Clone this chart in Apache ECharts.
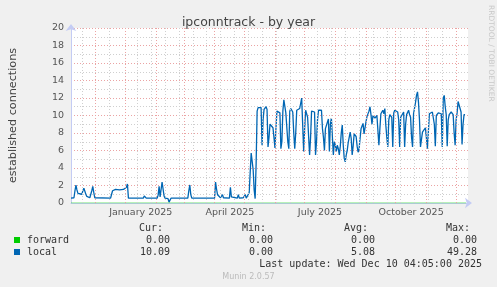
<!DOCTYPE html>
<html><head><meta charset="utf-8">
<script src="https://cdn.jsdelivr.net/npm/echarts@6/dist/echarts.min.js"></script>
<style>html,body{margin:0;padding:0;background:#f0f0f0}#c{width:497px;height:287px}</style>
</head><body><div id="c"></div>
<script>
// x values are days since 2024-09-01
const sparseDays = [67,70,71,72,73,74,76,78,79,80,81,82,83,84,86,88,89,90,91,92,107,108,109,110,112,114,116,118,120,122,123,124,125,140,141,142,143,154,155,156,157,158,159,160,161,162,165,166,167,168,185,186,187,188,189,212,213,214,215,216,217,218,219,220,221,222,227,228,229,230,235,236,237,241,242,243,244,246,247,248,249,250,251,252,253,254];
const sparseValues = [0.55,0.6,1.4,2.05,1.5,1.1,0.95,1.0,1.4,1.7,1.6,1.0,0.75,0.55,0.6,1.4,1.9,1.2,0.6,0.55,0.55,1.0,1.4,1.5,1.55,1.55,1.5,1.6,1.55,1.6,1.8,2.17,0.55,0.55,0.8,0.93,0.55,0.55,0.9,1.9,0.7,0.6,2.4,1.6,0.8,0.55,0.5,0.1,0.03,0.55,0.55,1.4,2.06,0.95,0.55,0.55,2.4,1.6,0.95,1.1,0.75,0.6,0.8,0.95,0.6,0.55,0.55,1.8,0.7,0.55,0.55,0.95,0.55,0.6,0.7,0.95,0.55,0.6,1.2,3.5,5.7,5.5,3.8,1.5,0.5,4.5];
const dailyStart = 255;
const dailyValues = [
10.5,10.9,10.8,11.0,10.9,6.6,9.5,10.7,10.8,11.0,
10.7,6.4,7.5,9.0,8.8,9.2,8.6,7.5,6.3,8.5,
10.5,10.7,10.6,10.3,6.2,7.0,10.5,11.8,11.6,10.3,
10.2,7.0,6.2,10.5,10.8,10.7,10.4,8.0,6.2,8.0,
10.6,10.7,10.5,10.8,11.4,12.0,9.0,5.9,8.5,10.6,
10.5,9.8,9.9,5.5,7.5,10.5,10.7,10.6,10.4,5.5,
7.0,9.5,10.6,10.8,10.7,10.6,8.5,7.5,6.0,8.5,
8.7,8.5,9.6,5.9,9.0,9.7,9.5,5.5,7.0,6.6,
5.9,6.6,6.2,5.5,6.5,8.0,8.9,6.6,5.1,4.7,
5.5,6.0,6.9,7.5,8.1,7.4,5.5,6.5,7.9,7.9,
7.6,6.5,5.8,6.2,7.4,8.5,8.8,9.1,7.9,8.0,
9.3,9.9,10.1,10.5,11.0,10.1,9.0,10.0,10.2,9.7,
9.8,10.0,10.2,6.6,8.5,10.2,10.4,10.6,10.2,10.8,
8.9,7.5,6.4,9.5,10.1,10.1,9.8,6.4,10.3,10.6,
10.7,10.8,10.4,9.5,6.4,9.8,10.0,10.0,10.4,6.4,
9.0,10.1,10.3,10.6,10.1,9.8,7.5,6.4,10.2,10.2,
11.5,12.3,12.7,11.5,9.5,6.4,6.2,8.1,8.0,8.3,
8.6,8.8,6.2,6.0,10.2,10.3,10.4,10.4,10.2,9.0,
6.5,10.0,10.2,10.3,10.4,10.3,10.2,6.4,12.0,12.3,
11.0,10.1,6.5,9.5,10.1,10.2,10.4,10.4,10.1,8.0,
6.6,9.5,10.3,11.6,11.2,11.0,10.4,6.7,9.0,10.1,
10.09];
const forwardDays = [67, 466];
const forwardValues = [0, 0];
const monthStartDays = [91,122,153,181,212,242,273,303,334,365,395,426,456];
const minorGridDays = [78,106,134,148,162,176,190,204,218,232,246,260,274,288,316,330,344,358,372,386,400,414,428,442];
const monthLabelDays = [137.5,227.5,318.5,410.5];
const monthLabels = ['January 2025','April 2025','July 2025','October 2025'];
const seriesNames = ['forward','local'];
const seriesColors = ['#00cc00','#0066b3'];
const curValues = ['0.00','10.09'];
const minValues = ['0.00','0.00'];
const avgValues = ['0.00','5.08'];
const maxValues = ['0.00','49.28'];
const lastUpdate = 'Last update: Wed Dec 10 04:05:00 2025';

const localData = sparseDays.map((d,i)=>[d, sparseValues[i]])
  .concat(dailyValues.map((v,i)=>[dailyStart+i, v]));
const forwardData = forwardDays.map((d,i)=>[d, forwardValues[i]]);

const mono = 'DejaVu Sans Mono';
const txtColor = '#333';
const graphic = [];
function t(x,y,text,align,opts){
  graphic.push(Object.assign({type:'text', x:x, y:y, silent:true,
    style:Object.assign({text:text, fill:txtColor, font:'10px "'+mono+'"', textAlign:align, textVerticalAlign:'middle'}, opts||{})}));
}
t(163,228,'Cur:','right'); t(266,228,'Min:','right'); t(368,228,'Avg:','right'); t(470,228,'Max:','right');
seriesNames.forEach((n,i)=>{
  const y = 240 + i*12;
  graphic.push({type:'rect', shape:{x:14,y:y-3,width:6,height:6}, style:{fill:seriesColors[i]}, silent:true});
  t(27,y,n,'left');
  t(170,y,curValues[i],'right'); t(273,y,minValues[i],'right'); t(375,y,avgValues[i],'right'); t(477,y,maxValues[i],'right');
});
t(482,264,lastUpdate,'right');
graphic.push({type:'text', x:248.5, y:277, silent:true, style:{text:'Munin 2.0.57', fill:'#bbb', font:'8px "DejaVu Sans"', textAlign:'center', textVerticalAlign:'middle'}});
graphic.push({type:'text', x:491, y:5, rotation:-Math.PI/2, silent:true, style:{text:'RRDTOOL / TOBI OETIKER', fill:'#c8c8c8', font:'7.5px "DejaVu Sans"', textAlign:'left', textVerticalAlign:'middle'}});

const gridLine = (d,color)=>({xAxis:d, lineStyle:{color:color, type:[1,2], width:1}});
const chart = echarts.init(document.getElementById('c'), null, {renderer:'canvas'});
chart.setOption({
  animation:false,
  backgroundColor:'#f0f0f0',
  title:{text:'ipconntrack - by year', left:'center', top:11, textStyle:{fontFamily:'DejaVu Sans', fontSize:12.5, fontWeight:'normal', color:'#444'}},
  grid:{left:67, top:28, width:401, height:175, show:true, backgroundColor:'#ffffff', borderWidth:0, containLabel:false},
  xAxis:{type:'value', min:67, max:468,
    axisLine:{show:true, lineStyle:{color:'#c4ccf4'}, symbol:['none','arrow'], symbolSize:[8,7], symbolOffset:[0,4]},
    axisTick:{show:false}, splitLine:{show:false},
    axisLabel:{customValues:monthLabelDays, formatter:v=>monthLabels[monthLabelDays.indexOf(v)], color:'#555', fontFamily:'DejaVu Sans', fontSize:9.5, margin:5}},
  yAxis:{type:'value', min:0, max:20, interval:2,
    name:'established connections', nameLocation:'middle', nameGap:52, nameTextStyle:{fontFamily:'DejaVu Sans', fontSize:11.2, color:'#444'},
    axisLine:{show:true, lineStyle:{color:'#c4ccf4'}, symbol:['none','arrow'], symbolSize:[8,7], symbolOffset:[0,4]},
    axisTick:{show:false},
    axisLabel:{color:'#555', fontFamily:'DejaVu Sans', fontSize:9.5, margin:7},
    splitLine:{show:true, lineStyle:{color:'#eba3a3', type:[1,2], width:1}},
    minorTick:{show:false, splitNumber:2},
    minorSplitLine:{show:true, lineStyle:{color:'#cfcfcf', type:[1,2], width:1}}},
  graphic:graphic,
  series:[
    {type:'line', data:[], z:1, silent:true, markLine:{silent:true, symbol:['none','none'], label:{show:false}, animation:false,
      data: minorGridDays.map(d=>gridLine(d,'#cfcfcf')).concat(monthStartDays.map(d=>gridLine(d,'#eba3a3')))}},
    {name:'local', type:'line', data:localData, z:3, showSymbol:false, symbol:'none', lineStyle:{color:'#0066b3', width:1.3}, itemStyle:{color:'#0066b3'}},
    {name:'forward', type:'line', data:forwardData, z:4, showSymbol:false, symbol:'none', lineStyle:{color:'#00cc00', width:1, opacity:0.55}, itemStyle:{color:'#00cc00'}}
  ]
});
</script></body></html>
